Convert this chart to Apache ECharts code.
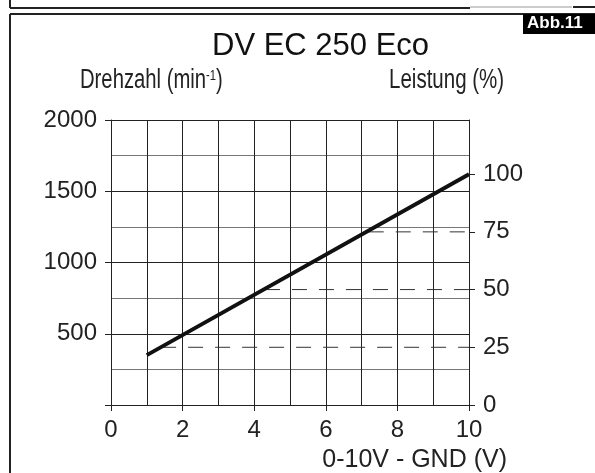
<!DOCTYPE html>
<html>
<head>
<meta charset="utf-8">
<script src="https://cdn.jsdelivr.net/npm/echarts@6/dist/echarts.min.js"></script>
<style>
html,body{margin:0;padding:0;background:#fff;}
#chart{width:595px;height:473px;}
</style>
</head>
<body>
<div id="chart"></div>
<script>
// Kennlinie: Spannung (V) -> Drehzahl (min-1)
var voltage = [1, 10];
var rpm = [350, 1620];

// Leistung-Stufen (rechte Achse) und wo die gestrichelte Linie beginnt (V)
var powerLevels = [25, 50, 75];
var dashStartV = [1.4, 4.3, 7.2];

var xTicks = [0, 2, 4, 6, 8, 10];
var rpmTicks = [500, 1000, 1500, 2000];
var powerTicks = [0, 25, 50, 75, 100];

var rpmMax = 2000;
var rpmAt100 = 1620; // 100 % Leistung

var font = "'Liberation Sans',Arial,sans-serif";

var chart = echarts.init(document.getElementById('chart'));

function plain(v) {
	return String(v);
}

var series = [{
	type: 'line',
	yAxisIndex: 0,
	symbol: 'none',
	silent: true,
	lineStyle: {color: '#111', width: 4},
	data: voltage.map(function (v, i) { return [v, rpm[i]]; }),
	z: 5
}];

// gestrichelte Linien fuer 25/50/75 %
for (var i = 0; i < powerLevels.length; i++) {
	series.push({
		type: 'line',
		yAxisIndex: 1,
		symbol: 'none',
		silent: true,
		lineStyle: {color: '#333', width: 1, type: [15, 12]},
		data: [[dashStartV[i], powerLevels[i]], [10, powerLevels[i]]],
		z: 3
	});
}

var option = {
	animation: false,
	backgroundColor: '#fff',
	grid: {left: 111, right: 126, top: 120, bottom: 68},
	xAxis: {
		type: 'value',
		min: 0, max: 10, interval: 2,
		axisLine: {show: true, lineStyle: {color: '#222', width: 1}},
		axisTick: {show: true, length: 6, lineStyle: {color: '#222'}},
		axisLabel: {
			color: '#222', fontFamily: font, fontSize: 24, margin: 13,
			customValues: xTicks, formatter: plain
		},
		splitLine: {show: true, lineStyle: {color: '#222', width: 1}},
		minorTick: {show: false, splitNumber: 2},
		minorSplitLine: {show: true, lineStyle: {color: '#222', width: 1}}
	},
	yAxis: [{
		type: 'value',
		position: 'left',
		min: 0, max: rpmMax, interval: 500,
		axisLine: {show: true, lineStyle: {color: '#222', width: 1}},
		axisTick: {show: true, length: 6, lineStyle: {color: '#222'}},
		axisLabel: {
			color: '#222', fontFamily: font, fontSize: 24, margin: 14,
			customValues: rpmTicks, formatter: plain
		},
		splitLine: {show: true, lineStyle: {color: '#222', width: 1}},
		minorTick: {show: false, splitNumber: 2},
		minorSplitLine: {show: true, lineStyle: {color: '#777', width: 1}}
	}, {
		type: 'value',
		position: 'right',
		min: 0, max: rpmMax / rpmAt100 * 100,
		axisLine: {show: true, lineStyle: {color: '#222', width: 1}},
		axisTick: {show: true, length: 6, lineStyle: {color: '#222'}, customValues: powerTicks},
		axisLabel: {
			color: '#222', fontFamily: font, fontSize: 24, margin: 14,
			customValues: powerTicks, formatter: plain
		},
		splitLine: {show: false}
	}],
	series: series,
	graphic: [
		// Rahmen
		{type: 'line', shape: {x1: 10, y1: 0, x2: 10, y2: 8}, style: {stroke: '#222', lineWidth: 2}},
		{type: 'line', shape: {x1: 10, y1: 8, x2: 470, y2: 8}, style: {stroke: '#222', lineWidth: 2}},
		{type: 'line', shape: {x1: 470, y1: 7, x2: 572, y2: 7}, style: {stroke: '#999', lineWidth: 1}},
		{type: 'line', shape: {x1: 573, y1: 7, x2: 595, y2: 7}, style: {stroke: '#222', lineWidth: 2}},
		{type: 'line', shape: {x1: 10, y1: 14, x2: 10, y2: 473}, style: {stroke: '#222', lineWidth: 2}},
		{type: 'line', shape: {x1: 10, y1: 14, x2: 595, y2: 14}, style: {stroke: '#222', lineWidth: 2}},
		// Abb.-Kennung
		{type: 'rect', shape: {x: 523, y: 14, width: 72, height: 20}, style: {fill: '#000'}},
		{type: 'text', left: 527, top: 15, style: {text: 'Abb.11', fill: '#fff', font: 'bold 17px ' + font}},
		// Titel
		{type: 'text', x: 212, y: 46, style: {text: 'DV EC 250 Eco', fill: '#111', font: '31px ' + font, verticalAlign: 'middle'}},
		{type: 'text', x: 80, y: 81, scaleX: 0.75, style: {
			text: '{a|Drehzahl (min}{b|-1}{a|)}',
			verticalAlign: 'middle',
			rich: {
				a: {fontFamily: font, fontSize: 27, fill: '#222', color: '#222'},
				b: {fontFamily: font, fontSize: 15, fill: '#222', color: '#222', padding: [0, 0, 10, 0]}
			}
		}},
		{type: 'text', x: 389, y: 81, scaleX: 0.76, style: {text: 'Leistung (%)', fill: '#222', font: '27px ' + font, verticalAlign: 'middle'}},
		// x-Achsentitel
		{type: 'text', right: 88, top: 448, style: {text: '0-10V - GND (V)', fill: '#222', font: '25px ' + font}}
	]
};

chart.setOption(option);
</script>
</body>
</html>
